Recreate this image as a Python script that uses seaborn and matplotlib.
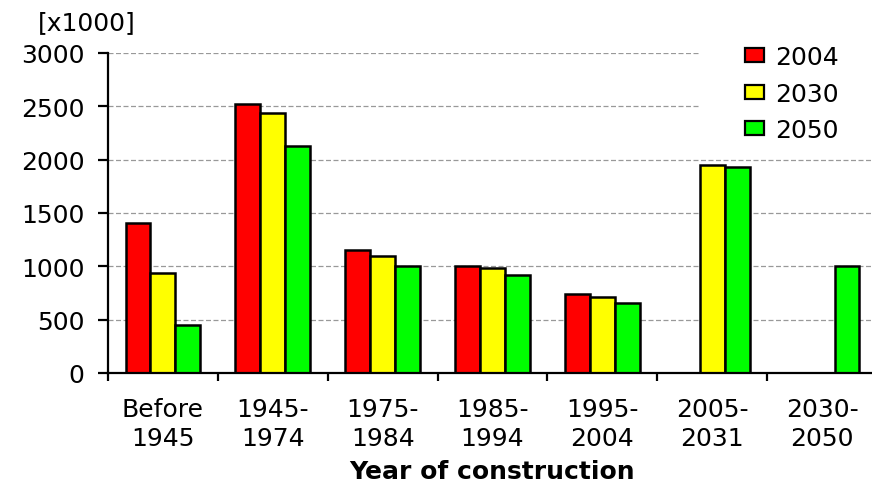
import numpy as np
import pandas as pd
import seaborn as sns
import matplotlib
matplotlib.use("Agg")
import matplotlib.pyplot as plt
from matplotlib.patches import Rectangle, Patch
from matplotlib.ticker import FixedLocator

categories = ["Before\n1945", "1945-\n1974", "1975-\n1984", "1985-\n1994",
              "1995-\n2004", "2005-\n2031", "2030-\n2050"]
series = ["2004", "2030", "2050"]
v2004 = [1410, 2520, 1150, 1000, 740, np.nan, np.nan]
v2030 = [940, 2440, 1100, 980, 715, 1950, np.nan]
v2050 = [450, 2130, 1000, 920, 655, 1930, 1000]
colors = ["#FF0000", "#FFFF00", "#00FF00"]
yticks = [0, 500, 1000, 1500, 2000, 2500, 3000]

rows = []
for s, vals in zip(series, [v2004, v2030, v2050]):
    for c, v in zip(categories, vals):
        rows.append({"cat": c, "series": s, "value": v})
df = pd.DataFrame(rows)

sns.set_theme(style="white")
plt.rcParams["font.family"] = ["DejaVu Sans"]

fig = plt.figure(figsize=(8.72, 4.89), dpi=100)
L, R, B, T = 108, 877, 374, 54
ax = fig.add_axes([L / 872, 1 - B / 489, (R - L) / 872, (B - T) / 489])

sns.barplot(data=df, x="cat", y="value", hue="series", order=categories,
            hue_order=series, palette=colors, errorbar=None, width=0.68,
            edgecolor="black", linewidth=1.8, ax=ax, saturation=1, legend=False)

ax.set_ylim(0, 3000)
ax.set_xlim(-0.5, len(categories) - 0.5)
ax.set_yticks(yticks)
ax.set_axisbelow(True)
ax.yaxis.grid(True, linestyle=(0, (4, 2)), color="#999999", linewidth=0.9)
ax.xaxis.grid(False)
for sp in ["top", "right"]:
    ax.spines[sp].set_visible(False)
for sp in ["left", "bottom"]:
    ax.spines[sp].set_color("black")
    ax.spines[sp].set_linewidth(1.6)

ax.tick_params(axis="y", which="major", direction="out", length=7, width=1.6,
               color="black", pad=10, labelsize=18, left=True, labelcolor="black")
ax.tick_params(axis="x", which="major", length=0, pad=17, labelsize=18,
               labelcolor="black")
ax.xaxis.set_minor_locator(FixedLocator(np.arange(-0.5, len(categories), 1.0)))
ax.tick_params(axis="x", which="minor", direction="out", length=6, width=1.6,
               color="black", bottom=True)
ax.set_xticks(range(len(categories)))
ax.set_xticklabels(categories, linespacing=1.3)
ax.set_ylabel("")
ax.set_xlabel("Year of construction", fontsize=18, fontweight="bold",
              labelpad=6, color="black")

# white background behind the legend (covers gridlines)
ax.add_patch(Rectangle((0.768, 0.73), 0.25, 0.3, transform=ax.transAxes,
                       facecolor="white", edgecolor="none", zorder=0.8,
                       clip_on=False))

handles = [Patch(facecolor=c, edgecolor="black", linewidth=1.6) for c in colors]
leg = fig.legend(handles, series, loc="upper left",
                 bbox_to_anchor=(745 / 872, 1 - 46 / 489),
                 bbox_transform=fig.transFigure, frameon=False, fontsize=18,
                 handlelength=0.75, handleheight=0.5, handletextpad=0.45,
                 labelspacing=0.5, borderpad=0, borderaxespad=0)
for t in leg.get_texts():
    t.set_color("black")

fig.text(38 / 872, 1 - 23 / 489, "[x1000]", fontsize=18, va="center",
         ha="left", color="black")

fig.savefig("out.png", dpi=100)
